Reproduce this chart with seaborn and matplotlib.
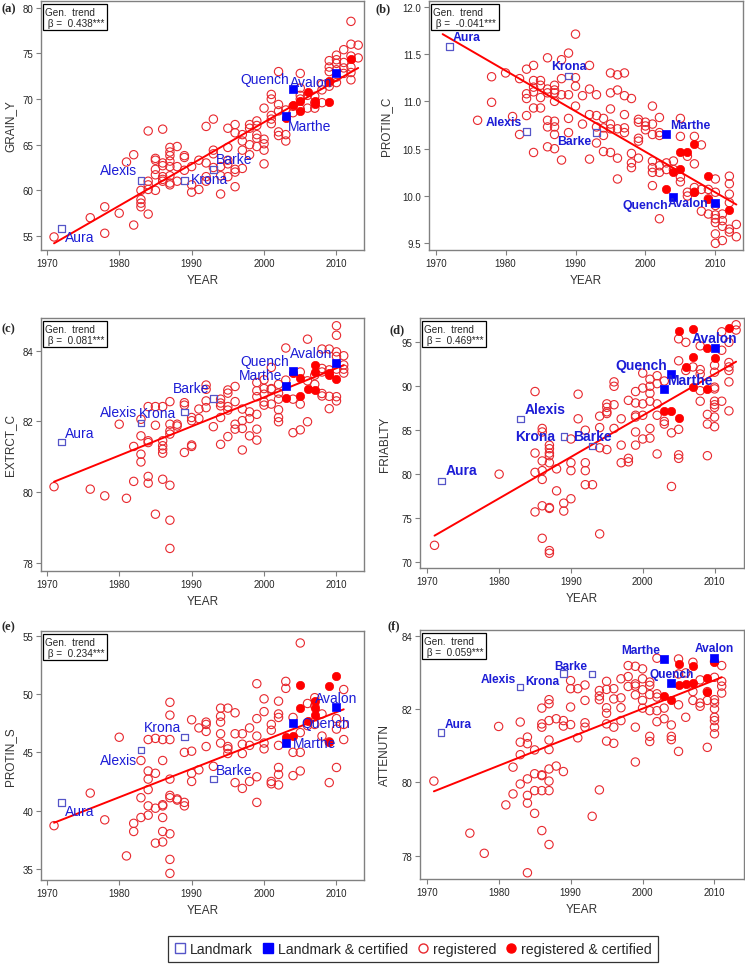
import numpy as np
import pandas as pd
import seaborn as sns
import matplotlib.pyplot as plt
from matplotlib.lines import Line2D
from matplotlib.ticker import FormatStrFormatter

sns.set_style("white")
plt.rcParams['font.family'] = ['Liberation Sans', 'DejaVu Sans']

# ---- data ------------------------------------------------------------------
landmark_names = ['Aura', 'Alexis', 'Krona', 'Barke']
landmark_years = [1972, 1983, 1989, 1993]
certified_names = ['Marthe', 'Quench', 'Avalon']
certified_years = [2003, 2004, 2010]

# (a) GRAIN_Y
grain_reg = {
    1971: [54.9], 1976: [57.0], 1978: [58.2, 55.3], 1980: [57.5], 1981: [63.1],
    1982: [63.9, 56.2], 1983: [60.0, 59.0, 58.6, 58.2],
    1984: [66.5, 61.0, 60.6, 60.1, 57.4], 1985: [63.5, 63.3, 62.3, 61.7, 60.0],
    1986: [66.7, 63.0, 62.7, 61.5, 61.2, 61.0],
    1987: [64.7, 64.2, 63.8, 63.2, 62.6, 61.6, 60.8, 60.6],
    1988: [64.8, 62.6, 61.0], 1989: [63.8, 63.6, 62.2], 1990: [62.6, 60.6, 59.8],
    1991: [63.3, 60.1], 1992: [67.0, 63.0, 61.5, 61.0], 1993: [67.8, 64.4, 64.0, 62.5],
    1994: [62.6, 61.6, 59.6], 1995: [66.8, 64.7, 63.3, 62.9, 61.5],
    1996: [67.2, 66.3, 62.3, 62.0, 60.4], 1997: [66.1, 65.4, 64.4, 62.4],
    1998: [67.2, 66.8, 65.0, 63.9], 1999: [67.6, 67.1, 66.1, 65.7, 64.8],
    2000: [69.0, 65.6, 65.1, 64.4, 62.9], 2001: [70.5, 70.0, 68.2, 67.8, 67.3],
    2002: [73.0, 69.4, 68.7, 66.4, 66.0], 2003: [68.8, 66.1, 65.4], 2004: [69.2, 68.5],
    2005: [72.8, 71.2, 70.4, 70.0, 68.9], 2006: [70.4, 69.0], 2007: [70.3, 69.6, 69.0],
    2008: [71.6, 71.0, 69.6], 2009: [74.2, 73.5, 73.0, 71.8, 71.4],
    2010: [74.8, 74.3, 73.9, 73.2, 72.4, 71.8], 2011: [75.4, 74.0, 73.4, 72.8],
    2012: [78.5, 76.0, 74.7, 73.5, 72.9, 72.1], 2013: [75.9, 74.5],
}
grain_cert = {2003: [67.9], 2004: [69.3], 2005: [69.8, 68.7], 2006: [70.8],
              2007: [69.8, 69.4], 2009: [72.0, 69.7], 2012: [74.4]}
grain_landmark = [55.8, 61.1, 61.1, 62.3]
grain_certified = [68.1, 71.1, 72.9]

# (b) PROTIN_C
protc_reg = {
    1971: [11.94], 1976: [10.80], 1978: [11.26, 10.99], 1980: [11.30], 1981: [10.84],
    1982: [11.24, 10.65], 1983: [11.34, 11.08, 11.03, 10.85],
    1984: [11.38, 11.22, 11.15, 11.10, 10.93, 10.46], 1985: [11.22, 11.17, 11.04, 10.93],
    1986: [11.46, 11.13, 11.09, 10.80, 10.73, 10.52],
    1987: [11.17, 11.12, 11.09, 11.00, 10.79, 10.73, 10.65, 10.50],
    1988: [11.44, 11.24, 11.07, 10.38], 1989: [11.51, 11.07, 10.82, 10.67],
    1990: [11.71, 11.25, 11.16, 10.95], 1991: [11.06, 10.76],
    1992: [11.38, 11.13, 10.86, 10.39], 1993: [11.07, 10.85, 10.73, 10.56],
    1994: [10.82, 10.72, 10.64, 10.47], 1995: [11.30, 11.09, 10.92, 10.76, 10.71, 10.46],
    1996: [11.28, 11.12, 10.71, 10.40, 10.18], 1997: [11.30, 11.06, 10.86, 10.72, 10.67],
    1998: [11.03, 10.45, 10.35, 10.30], 1999: [10.81, 10.78, 10.61, 10.58, 10.40],
    2000: [10.78, 10.74, 10.70],
    2001: [10.95, 10.76, 10.65, 10.37, 10.30, 10.25, 10.11],
    2002: [10.83, 10.67, 10.64, 10.32, 10.25, 9.76], 2003: [10.35, 10.28],
    2004: [10.37, 10.28], 2005: [10.82, 10.63, 10.20, 10.15], 2006: [10.42, 10.04, 10.00],
    2007: [10.63, 10.34, 10.09, 10.04], 2008: [10.54, 10.07, 9.84],
    2009: [10.07, 9.97, 9.81],
    2010: [10.18, 10.04, 9.90, 9.80, 9.76, 9.72, 9.60, 9.50],
    2011: [9.81, 9.74, 9.68, 9.53], 2012: [10.21, 10.13, 10.02, 9.93, 9.65, 9.62],
    2013: [9.70, 9.57],
}
protc_cert = {2003: [10.07], 2004: [10.25], 2005: [10.47, 10.29], 2006: [10.47],
              2007: [10.55, 10.04], 2009: [10.21, 9.97], 2012: [9.85]}
protc_landmark = [11.58, 10.68, 11.27, 10.67]
protc_certified = [10.65, 9.99, 9.93]

# (c) EXTRCT_C
extr_reg = {
    1971: [80.15], 1976: [80.08], 1978: [79.89], 1980: [81.92], 1981: [79.82],
    1982: [81.29, 80.30], 1983: [82.06, 81.59, 81.07, 80.85],
    1984: [82.42, 81.45, 81.40, 80.44, 80.25], 1985: [82.42, 81.89, 79.37],
    1986: [82.42, 81.45, 81.31, 81.21, 81.10, 80.36],
    1987: [82.56, 81.92, 81.73, 81.64, 80.19, 79.20, 78.40],
    1988: [81.92, 81.87], 1989: [82.53, 82.46, 81.12], 1990: [82.11, 82.02, 81.33, 81.29],
    1991: [82.35, 82.08], 1992: [83.03, 82.91, 82.58, 82.39], 1993: [81.85],
    1994: [82.63, 82.52, 82.44, 82.11, 81.35], 1995: [82.89, 82.80, 82.42, 82.32, 81.57],
    1996: [82.99, 82.56, 81.92, 81.78], 1997: [82.35, 82.02, 81.80, 81.19],
    1998: [82.27, 82.08, 81.59], 1999: [83.10, 82.87, 82.70, 82.20, 81.78, 81.47],
    2000: [83.18, 82.93, 82.77, 82.55, 82.46], 2001: [83.53, 82.93, 82.91, 82.49],
    2002: [83.05, 82.80, 82.63, 82.33, 82.11, 81.99], 2003: [84.08, 83.17],
    2004: [82.63, 81.68], 2005: [83.40, 82.49, 81.76], 2006: [84.33, 83.15, 81.99],
    2007: [83.31, 83.05], 2008: [84.05, 83.50, 83.40, 82.79, 82.72],
    2009: [84.05, 83.46, 82.71, 82.36],
    2010: [84.71, 84.44, 83.97, 83.84, 83.48, 82.70, 82.58],
    2011: [83.86, 83.60, 83.48, 83.37],
}
extr_cert = {2003: [82.66], 2004: [83.37], 2005: [83.22, 82.71], 2006: [82.91],
             2007: [83.60, 83.40, 82.89], 2009: [83.37, 83.31], 2010: [83.20]}
extr_landmark = [81.42, 81.95, 82.27, 82.65]
extr_certified = [83.00, 83.42, 83.65]

# (d) FRIABLTY
fria_reg = {
    1971: [71.9], 1980: [80.0], 1985: [89.4, 82.4, 80.2, 75.7],
    1986: [85.2, 84.8, 81.5, 80.4, 79.4, 76.4, 72.7],
    1987: [83.3, 82.9, 82.4, 82.1, 81.3, 76.2, 76.1, 71.3, 71.0],
    1988: [80.6, 78.1], 1989: [76.7, 75.8], 1990: [84.0, 81.3, 80.4, 77.2],
    1991: [89.1, 86.3], 1992: [85.0, 81.3, 80.4, 78.8], 1993: [78.8],
    1994: [86.6, 85.3, 83.0, 73.2], 1995: [88.0, 87.6, 87.1, 86.9, 82.8],
    1996: [90.5, 90.0, 87.9, 85.2], 1997: [86.3, 83.3, 81.3], 1998: [88.4, 81.8, 81.4],
    1999: [89.4, 88.1, 86.7, 86.5, 84.8, 83.3], 2000: [91.5, 89.8, 88.0, 86.7, 84.0],
    2001: [90.8, 90.0, 89.2, 88.3, 85.2, 84.1], 2002: [91.2, 90.3, 88.0, 86.7, 82.3],
    2003: [90.6, 86.0, 85.7], 2004: [84.7, 78.6], 2005: [95.4, 92.9, 85.1, 82.2, 81.8],
    2006: [95.0, 91.8], 2007: [92.2], 2008: [94.6, 91.9, 91.4, 89.5, 88.3],
    2009: [86.8, 85.7, 82.1],
    2010: [92.4, 91.6, 89.9, 89.7, 88.3, 87.9, 87.6, 86.5, 85.4],
    2011: [96.2, 94.1, 88.3], 2012: [95.0, 92.7, 92.2, 91.8, 90.5, 87.2],
    2013: [97.0, 96.4],
}
fria_cert = {2003: [87.2], 2004: [87.2], 2005: [96.3, 86.4], 2006: [92.2],
             2007: [96.5, 93.3, 89.9], 2009: [94.3, 89.7], 2010: [93.2], 2012: [96.6]}
fria_landmark = [79.2, 86.3, 84.3, 83.2]
fria_certified = [89.7, 91.4, 94.3]

# (e) PROTIN_S
prots_reg = {
    1971: [38.7], 1976: [41.5], 1978: [39.2], 1980: [46.3], 1981: [36.1],
    1982: [38.9, 38.2], 1983: [44.3, 41.1, 39.4],
    1984: [46.1, 43.4, 42.7, 41.8, 40.4, 39.6], 1985: [46.2, 43.2, 40.2, 37.2],
    1986: [46.1, 44.3, 40.5, 40.4, 39.4, 38.2, 37.3],
    1987: [49.3, 48.2, 46.1, 42.7, 41.3, 41.1, 38.0, 35.8, 34.6],
    1988: [41.0, 40.9], 1989: [45.0, 40.7, 40.4], 1990: [47.8, 45.1, 43.2, 42.5],
    1991: [47.1, 43.5], 1992: [47.6, 47.4, 46.8, 45.5], 1993: [43.8],
    1994: [48.8, 48.1, 47.6, 46.6, 45.8], 1995: [48.8, 45.5, 45.3, 44.9],
    1996: [48.4, 46.6, 42.4], 1997: [46.6, 45.7, 44.9, 41.9], 1998: [47.1, 45.6, 42.5],
    1999: [50.9, 47.9, 46.4, 42.9, 40.7], 2000: [49.6, 48.5, 45.8, 45.3],
    2001: [47.4, 46.9, 42.5, 42.3], 2002: [49.4, 48.3, 48.0, 45.6, 43.7, 43.1, 42.2],
    2003: [51.1, 50.5], 2004: [48.0, 45.0, 43.0], 2005: [54.4, 46.7, 45.0, 43.4],
    2006: [49.2, 47.3], 2007: [49.7, 49.0, 47.4], 2008: [48.3, 46.4], 2009: [45.9, 42.4],
    2010: [47.9, 47.0, 43.7], 2011: [50.4, 47.4, 46.1],
}
prots_cert = {2003: [46.3], 2004: [46.4], 2005: [50.8, 48.8], 2006: [47.7],
              2007: [49.4, 48.8, 48.2], 2009: [50.7, 45.9], 2010: [51.6]}
prots_landmark = [40.7, 45.2, 46.3, 42.7]
prots_certified = [45.8, 47.5, 48.9]

# (f) ATTENUTN
atten_reg = {
    1971: [80.03], 1976: [78.61], 1978: [78.06], 1980: [81.52], 1981: [79.38],
    1982: [80.41, 79.68], 1983: [81.64, 81.09, 80.75, 79.95],
    1984: [81.23, 81.05, 80.09, 79.64, 79.43, 77.53], 1985: [80.88, 80.23, 79.77, 79.15],
    1986: [82.02, 81.59, 81.50, 80.20, 80.18, 79.77, 78.68],
    1987: [82.25, 82.14, 81.68, 81.15, 80.89, 80.36, 80.03, 79.77, 78.30],
    1988: [81.73, 80.44], 1989: [81.68, 81.53, 80.29], 1990: [82.77, 82.55, 82.05, 81.57],
    1991: [82.55, 81.21], 1992: [82.65, 82.23, 81.62, 81.50], 1993: [79.07],
    1994: [82.50, 82.35, 82.25, 79.79], 1995: [82.75, 82.53, 82.03, 81.88, 81.59, 81.12],
    1996: [82.55, 82.27, 81.50, 81.06], 1997: [82.82, 82.30, 82.03, 81.68],
    1998: [83.18, 82.88, 82.61], 1999: [83.16, 82.68, 82.62, 82.38, 81.50, 80.55],
    2000: [83.09, 82.82, 82.52, 82.23, 82.02],
    2001: [82.73, 82.64, 82.39, 81.95, 81.25, 81.11],
    2002: [83.38, 82.41, 82.32, 81.95, 81.65], 2003: [82.02, 81.73],
    2004: [81.56, 81.25, 81.16], 2005: [83.36, 82.95, 82.11, 80.84], 2006: [82.98, 81.77],
    2007: [83.27, 82.47, 82.23], 2008: [82.79, 82.16, 82.07], 2009: [82.47, 82.23, 80.95],
    2010: [83.29, 82.86, 82.25, 82.16, 82.00, 81.77, 81.68, 81.50, 81.32],
    2011: [83.18, 82.75, 82.62, 82.43],
}
atten_cert = {2003: [82.35], 2004: [82.25], 2005: [83.23, 82.64], 2006: [82.68],
              2007: [83.16, 82.71], 2009: [82.84, 82.45], 2010: [83.29]}
atten_landmark = [81.35, 82.60, 82.97, 82.95]
atten_certified = [83.35, 82.70, 83.40]

# trend lines: (first year, last year, value at first, value at last)
trend_a = (1971, 2013, 54.2, 73.4)
trend_b = (1971, 2013, 11.71, 9.91)
trend_c = (1971, 2011, 80.29, 83.59)
trend_d = (1971, 2013, 73.0, 92.8)
trend_e = (1971, 2011, 38.95, 48.7)
trend_f = (1971, 2011, 79.75, 82.86)

betas = ['0.438', '-0.041', '0.081', '0.469', '0.234', '0.059']
ylabels = ['GRAIN_Y', 'PROTIN_C', 'EXTRCT_C', 'FRIABLTY', 'PROTIN_S', 'ATTENUTN']

# ---- styling ------------------------------------------------------------------
RED = '#ff0000'
RED_OPEN = '#e8282e'
BLUE = '#0000ff'
BLUE_OPEN = '#5555c8'
BLUE_TEXT = '#1c1cd6'
GRAY = '#808080'

W, H = 745, 970

# label offsets in points: (dx, dy, ha)
label_offsets = {
    'a': {'Aura': (2.6, -6.2, 'left'), 'Alexis': (-3, 7.4, 'right'), 'Krona': (4.8, 0.7, 'left'),
          'Barke': (1.9, 7.7, 'left'), 'Marthe': (1.2, -6.7, 'left'), 'Quench': (-2.9, 7.2, 'right'),
          'Avalon': (-3.1, -6.5, 'right')},
    'b': {'Aura': (1.9, 6.7, 'left'), 'Alexis': (-3.6, 6.7, 'right'), 'Krona': (0, 7, 'center'),
          'Barke': (-3.6, -6, 'right'), 'Marthe': (2.4, 6.5, 'left'), 'Quench': (-3.6, -6, 'right'),
          'Avalon': (-5.3, 0, 'right')},
    'c': {'Aura': (2.6, 6.7, 'left'), 'Alexis': (-3.1, 7.7, 'right'), 'Krona': (-6.2, -0.7, 'right'),
          'Barke': (-2.9, 7.2, 'right'), 'Marthe': (-2.9, 7.7, 'right'), 'Quench': (-2.9, 7.7, 'right'),
          'Avalon': (-3.1, 7.2, 'right')},
    'd': {'Aura': (2.9, 7.7, 'left'), 'Alexis': (2.9, 7.2, 'left'), 'Krona': (-6.5, 0, 'right'),
          'Barke': (0, 7.2, 'center'), 'Marthe': (2.2, 6.5, 'left'), 'Quench': (-3.1, 6.5, 'right'),
          'Avalon': (0, 7.7, 'center')},
    'e': {'Aura': (2.6, -6, 'left'), 'Alexis': (-3.1, -7, 'right'), 'Krona': (-2.4, 7.2, 'right'),
          'Barke': (1.9, 6.7, 'left'), 'Marthe': (4.8, 0, 'left'), 'Quench': (6, 0, 'left'),
          'Avalon': (0, 6.7, 'center')},
    'f': {'Aura': (2.9, 6, 'left'), 'Alexis': (-3.1, 6, 'right'), 'Krona': (-3.1, -5.8, 'right'),
          'Barke': (-3.4, 6, 'right'), 'Marthe': (-3.1, 7, 'right'), 'Quench': (0, 6.7, 'center'),
          'Avalon': (0, 6.5, 'center')},
}

panels = [
    dict(key='a', reg=grain_reg, cert=grain_cert, lm=grain_landmark, lc=grain_certified,
         trend=trend_a, rect=(41, 2, 364, 251), xlim=(1969.2, 2013.8), ylim=(53.47, 80.73),
         yticks=[55, 60, 65, 70, 75, 80], fmt='%d', lab_size=10, lab_weight='normal',
         ylab_x=16, tag=(2, 9)),
    dict(key='b', reg=protc_reg, cert=protc_cert, lm=protc_landmark, lc=protc_certified,
         trend=trend_b, rect=(429, 2, 743, 251), xlim=(1969.05, 2013.95), ylim=(9.43, 12.06),
         yticks=[9.5, 10.0, 10.5, 11.0, 11.5, 12.0], fmt='%.1f', lab_size=8.8, lab_weight='bold',
         ylab_x=392, tag=(375, 9)),
    dict(key='c', reg=extr_reg, cert=extr_cert, lm=extr_landmark, lc=extr_certified,
         trend=trend_c, rect=(41, 319, 364, 572), xlim=(1969.2, 2013.8), ylim=(77.76, 84.93),
         yticks=[78, 80, 82, 84], fmt='%d', lab_size=10, lab_weight='normal',
         ylab_x=16, tag=(2, 329)),
    dict(key='d', reg=fria_reg, cert=fria_cert, lm=fria_landmark, lc=fria_certified,
         trend=trend_d, rect=(420, 319, 744, 569), xlim=(1968.98, 2014.1), ylim=(69.32, 97.77),
         yticks=[70, 75, 80, 85, 90, 95], fmt='%d', lab_size=10, lab_weight='bold',
         ylab_x=391, tag=(389, 330)),
    dict(key='e', reg=prots_reg, cert=prots_cert, lm=prots_landmark, lc=prots_certified,
         trend=trend_e, rect=(41, 632, 364, 881), xlim=(1969.2, 2013.8), ylim=(34.03, 55.43),
         yticks=[35, 40, 45, 50, 55], fmt='%d', lab_size=10, lab_weight='normal',
         ylab_x=16, tag=(2, 627)),
    dict(key='f', reg=atten_reg, cert=atten_cert, lm=atten_landmark, lc=atten_certified,
         trend=trend_f, rect=(420, 631, 744, 880), xlim=(1969.07, 2014.1), ylim=(77.36, 84.15),
         yticks=[78, 80, 82, 84], fmt='%d', lab_size=8.6, lab_weight='bold',
         ylab_x=391, tag=(387, 626)),
]


def expand(d):
    rows = [(yr, v) for yr, vals in d.items() for v in vals]
    return pd.DataFrame(rows, columns=['YEAR', 'value'])


fig = plt.figure(figsize=(W / 100, H / 100), dpi=100)

for i, p in enumerate(panels):
    l, t, r, b = p['rect']
    ax = fig.add_axes([l / W, 1 - b / H, (r - l) / W, (b - t) / H])

    reg = expand(p['reg'])
    cert = expand(p['cert'])
    lm = pd.DataFrame({'YEAR': landmark_years, 'value': p['lm'], 'name': landmark_names})
    lc = pd.DataFrame({'YEAR': certified_years, 'value': p['lc'], 'name': certified_names})

    sns.scatterplot(data=reg, x='YEAR', y='value', ax=ax, marker='o', s=36,
                    color=RED_OPEN, facecolor='none', edgecolor=RED_OPEN, linewidth=0.8, zorder=2)
    sns.scatterplot(data=cert, x='YEAR', y='value', ax=ax, marker='o', s=36,
                    color=RED, edgecolor=RED, linewidth=0.5, zorder=3)
    x0, x1, y0, y1 = p['trend']
    sns.lineplot(x=[x0, x1], y=[y0, y1], ax=ax, color=RED, linewidth=1.4, zorder=4)
    sns.scatterplot(data=lm, x='YEAR', y='value', ax=ax, marker='s', s=22,
                    color=BLUE_OPEN, facecolor='none', edgecolor=BLUE_OPEN, linewidth=0.9, zorder=5)
    sns.scatterplot(data=lc, x='YEAR', y='value', ax=ax, marker='s', s=26,
                    color=BLUE, edgecolor=BLUE, linewidth=0.5, zorder=5)

    offs = label_offsets[p['key']]
    for df_ in (lm, lc):
        for _, row in df_.iterrows():
            dx, dy, ha = offs[row['name']]
            ax.annotate(row['name'], (row['YEAR'], row['value']), xytext=(dx, dy),
                        textcoords='offset points', ha=ha, va='center',
                        color=BLUE_TEXT, fontsize=p['lab_size'], fontweight=p['lab_weight'],
                        zorder=6)

    ax.annotate('Gen.  trend\n β =  %s***' % betas[i], xy=(0, 1), xycoords='axes fraction',
                xytext=(3.2, -4), textcoords='offset points', ha='left', va='top',
                fontsize=7.2, linespacing=1.15, zorder=7,
                bbox=dict(boxstyle='square,pad=0.25', fc='white', ec='black', lw=0.9))

    ax.set_xlim(*p['xlim'])
    ax.set_ylim(*p['ylim'])
    ax.set_xticks([1970, 1980, 1990, 2000, 2010])
    ax.set_yticks(p['yticks'])
    ax.yaxis.set_major_formatter(FormatStrFormatter(p['fmt']))
    ax.tick_params(axis='both', which='major', length=3.5, width=0.8, color=GRAY,
                   labelsize=7, pad=2, direction='out', bottom=True, left=True)
    for s in ax.spines.values():
        s.set_color(GRAY)
        s.set_linewidth(1.0)
    ax.set_xlabel('YEAR', fontsize=8.5, color='#333333', labelpad=4.5)
    ax.set_ylabel(ylabels[i], fontsize=8.5, color='#333333')
    ax.yaxis.set_label_coords((p['ylab_x'] - l) / (r - l), 0.5)

    tx, ty = p['tag']
    fig.text(tx / W, 1 - ty / H, '(%s)' % p['key'], family='Liberation Serif',
             fontweight='bold', fontsize=9, ha='left', va='center')

handles = [
    Line2D([], [], ls='', marker='s', ms=7.5, mfc='none', mec=BLUE_OPEN, mew=1.0),
    Line2D([], [], ls='', marker='s', ms=6.5, mfc=BLUE, mec=BLUE),
    Line2D([], [], ls='', marker='o', ms=6.5, mfc='none', mec=RED_OPEN, mew=1.0),
    Line2D([], [], ls='', marker='o', ms=6.5, mfc=RED, mec=RED),
]
labels = ['Landmark', 'Landmark & certified', 'registered', 'registered & certified']
leg = fig.legend(handles, labels, loc='center', bbox_to_anchor=(413 / W, 1 - 950 / H), ncol=4,
                 frameon=True, fancybox=False, edgecolor='black', fontsize=10.2,
                 handlelength=0.9, handletextpad=0.25, columnspacing=0.6, borderpad=0.45)
leg.get_frame().set_linewidth(0.9)

fig.savefig('out.png', dpi=100)
